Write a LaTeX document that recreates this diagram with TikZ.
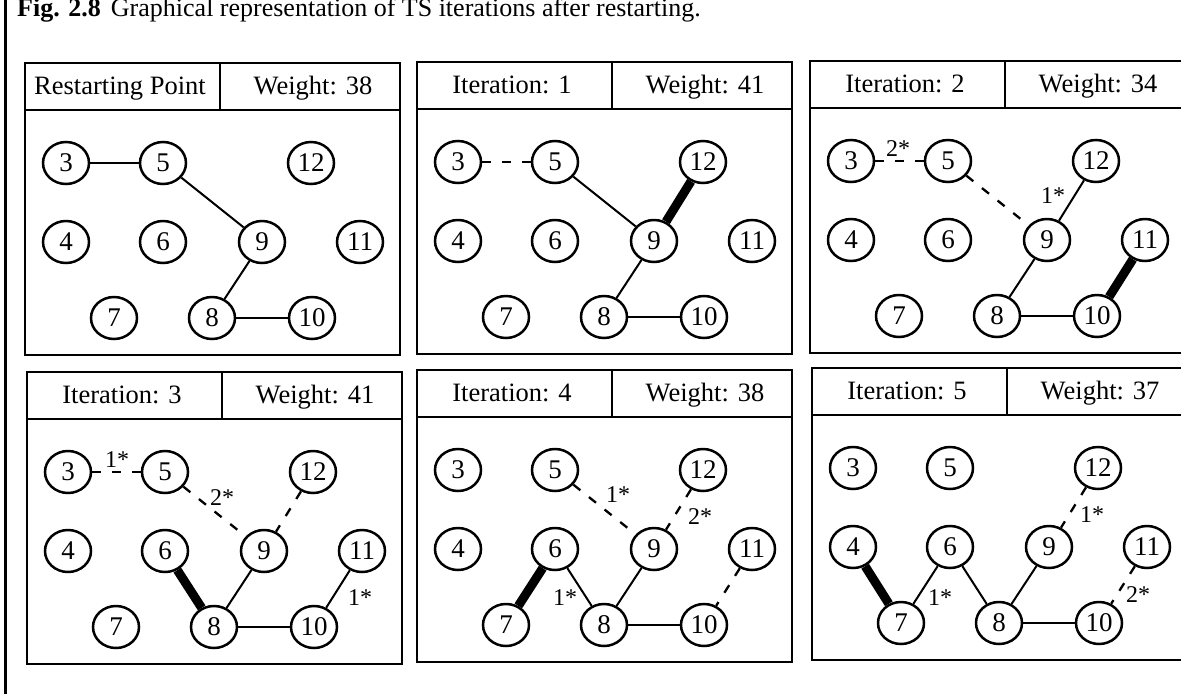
\documentclass[tikz,border=0pt]{standalone}
\usepackage{fontspec}
\setmainfont{Liberation Serif}
\usetikzlibrary{shapes.geometric}
\tikzset{
  vtx/.style={draw, ellipse, line width=2.5pt, minimum width=46pt, minimum height=42pt, inner sep=0pt, font=\fontsize{27}{27}\selectfont},
  plain/.style={line width=2pt},
  heavy/.style={line width=9pt},
  dsh/.style={line width=2.3pt, dash pattern=on 9pt off 11pt},
  lbl/.style={font=\fontsize{24}{24}\selectfont, inner sep=0pt},
  hdr/.style={font=\fontsize{26.5}{26.5}\selectfont, anchor=base, inner sep=0pt},
  frame/.style={line width=2.7pt},
}
\newcommand\drawpanel[6]{%
  \begin{scope}[shift={(#2,#3)}]
    \draw[frame] (0,0) rectangle (375,292);
    \draw[frame] (0,47) -- (375,47);
    \draw[frame] (195,0) -- (195,47);
    \node[hdr] (#1hl) at (95,31) {#4};
    \node[hdr] (#1hr) at (288,31) {#5};
    \node[vtx] (#13) at (41,100) {3};
    \node[vtx] (#15) at (138,100) {5};
    \node[vtx] (#112) at (286,100) {12};
    \node[vtx] (#14) at (41,179) {4};
    \node[vtx] (#16) at (138,179) {6};
    \node[vtx] (#19) at (237,179) {9};
    \node[vtx] (#111) at (335,179) {11};
    \node[vtx] (#17) at (89,255) {7};
    \node[vtx] (#18) at (187,255) {8};
    \node[vtx] (#110) at (287,255) {10};
    #6
  \end{scope}}
\begin{document}
\begin{tikzpicture}[x=1pt,y=-1pt]
\useasboundingbox (0,0) rectangle (1181,694);
\fill[white] (0,0) rectangle (1181,694);
\coordinate (ltop) at (5,0);
\coordinate (lbot) at (5,694);
\draw[line width=3pt] (ltop) -- (lbot);
\node[anchor=base west, inner sep=0pt, font=\fontsize{26}{26}\selectfont] (cap) at (17,16)
  {\textbf{Fig. 2.8}\hspace{10pt}Graphical representation of TS iterations after restarting.};

\drawpanel{a}{25}{63}{Restarting Point}{Weight: 38}{%
  \draw[plain] (a3) -- (a5);
  \draw[plain] (a5) -- (a9);
  \draw[plain] (a9) -- (a8);
  \draw[plain] (a8) -- (a10);
}
\drawpanel{b}{417}{62}{Iteration: 1}{Weight: 41}{%
  \draw[dsh] (b3) -- (b5);
  \draw[plain] (b5) -- (b9);
  \draw[heavy] (b12) -- (b9);
  \draw[plain] (b9) -- (b8);
  \draw[plain] (b8) -- (b10);
}
\drawpanel{c}{810}{61}{Iteration: 2}{Weight: 34}{%
  \draw[dsh] (c3) -- (c5);
  \node[lbl] (cl1) at (88,88) {2*};
  \draw[dsh] (c5) -- (c9);
  \draw[plain] (c12) -- (c9);
  \node[lbl] (cl2) at (243,135) {1*};
  \draw[plain] (c9) -- (c8);
  \draw[plain] (c8) -- (c10);
  \draw[heavy] (c11) -- (c10);
}
\drawpanel{d}{27}{372}{Iteration: 3}{Weight: 41}{%
  \draw[dsh] (d3) -- (d5);
  \node[lbl] (dl1) at (90,88) {1*};
  \draw[dsh] (d5) -- (d9);
  \node[lbl] (dl2) at (195,126) {2*};
  \draw[dsh] (d12) -- (d9);
  \draw[heavy] (d6) -- (d8);
  \draw[plain] (d9) -- (d8);
  \draw[plain] (d8) -- (d10);
  \draw[plain] (d11) -- (d10);
  \node[lbl] (dl3) at (333,226) {1*};
}
\drawpanel{e}{417}{370}{Iteration: 4}{Weight: 38}{%
  \draw[dsh] (e5) -- (e9);
  \node[lbl] (el1) at (201,125) {1*};
  \draw[dsh] (e12) -- (e9);
  \node[lbl] (el2) at (283,147) {2*};
  \draw[heavy] (e6) -- (e7);
  \draw[plain] (e6) -- (e8);
  \node[lbl] (el3) at (148,228) {1*};
  \draw[plain] (e9) -- (e8);
  \draw[plain] (e8) -- (e10);
  \draw[dsh] (e11) -- (e10);
}
\drawpanel{f}{812}{368}{Iteration: 5}{Weight: 37}{%
  \draw[dsh] (f12) -- (f9);
  \node[lbl] (fl1) at (280,147) {1*};
  \draw[heavy] (f4) -- (f7);
  \draw[plain] (f7) -- (f6);
  \node[lbl] (fl2) at (128,230) {1*};
  \draw[plain] (f6) -- (f8);
  \draw[plain] (f9) -- (f8);
  \draw[plain] (f8) -- (f10);
  \draw[dsh] (f11) -- (f10);
  \node[lbl] (fl3) at (326,227) {2*};
}
\end{tikzpicture}
\end{document}
